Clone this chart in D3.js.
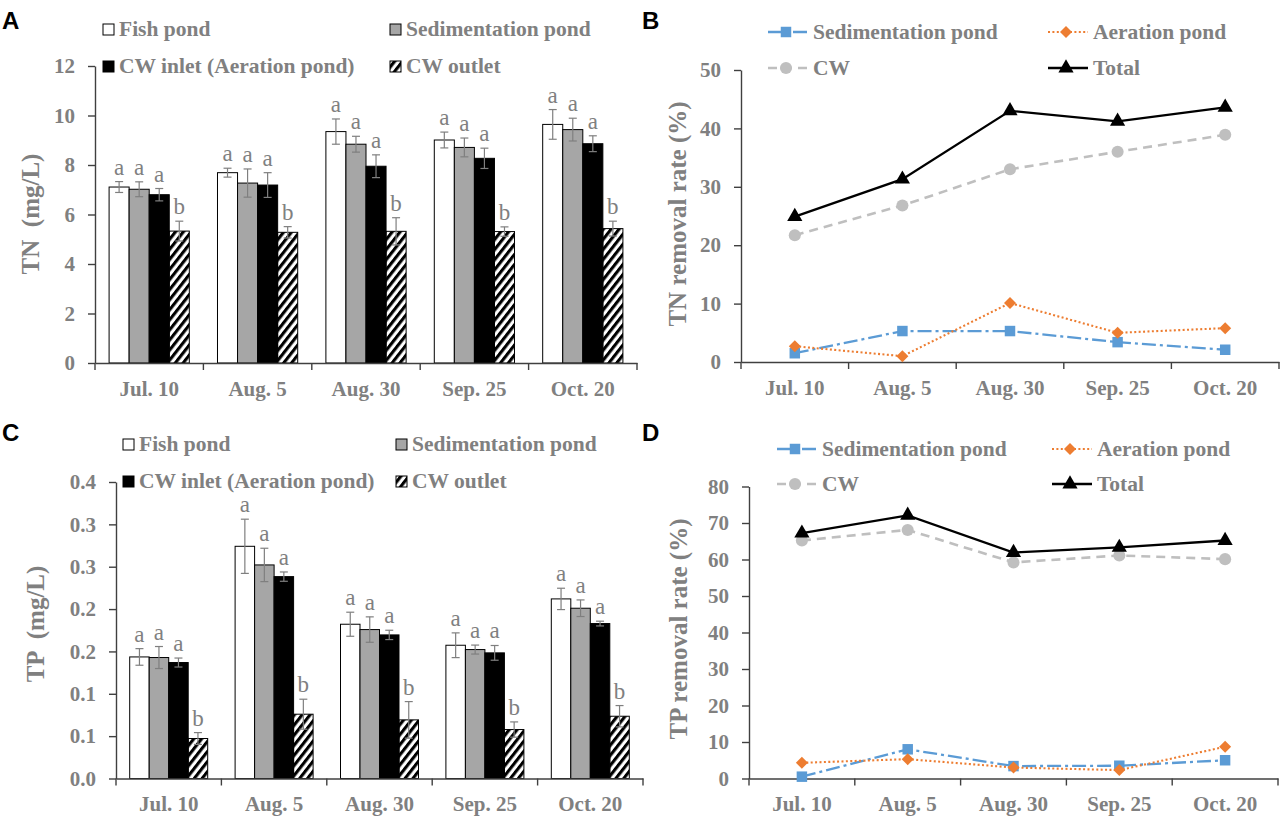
<!DOCTYPE html>
<html>
<head>
<meta charset="utf-8">
<script src="https://cdnjs.cloudflare.com/ajax/libs/d3/7.8.5/d3.min.js"></script>
<style>
body { margin: 0; background: #fff; }
svg text { font-family: "Liberation Serif", "Times New Roman", serif; }
.tick text { font-weight: bold; fill: #808080; font-size: 21px; }
.ytitle { font-weight: bold; fill: #808080; font-size: 25px; }
.leg { font-weight: bold; fill: #808080; font-size: 21.5px; }
.letter { fill: #808080; font-size: 23px; }
.panel { font-family: "Liberation Sans", Arial, sans-serif !important; font-weight: bold; font-size: 24px; fill: #000; }
</style>
</head>
<body>
<svg width="1280" height="816"></svg>
<script>
var dates = ["Jul. 10", "Aug. 5", "Aug. 30", "Sep. 25", "Oct. 20"];
var barNames = ["Fish pond", "Sedimentation pond", "CW inlet (Aeration pond)", "CW outlet"];
var lineNames = ["Sedimentation pond", "Aeration pond", "CW", "Total"];
var letters = ["a", "a", "a", "b"];

// TN concentration (mg/L) and standard errors
var tnFish   = [7.11, 7.69, 9.35, 9.01, 9.64];
var tnSed    = [7.02, 7.27, 8.84, 8.71, 9.43];
var tnInlet  = [6.80, 7.19, 7.95, 8.27, 8.86];
var tnOutlet = [5.33, 5.28, 5.32, 5.31, 5.43];
var tnFishErr   = [0.22, 0.18, 0.51, 0.32, 0.60];
var tnSedErr    = [0.30, 0.57, 0.32, 0.38, 0.46];
var tnInletErr  = [0.25, 0.50, 0.46, 0.41, 0.32];
var tnOutletErr = [0.40, 0.23, 0.55, 0.19, 0.30];

// TP concentration (mg/L) and standard errors
var tpFish   = [0.1435, 0.2741, 0.1821, 0.1573, 0.2120];
var tpSed    = [0.1428, 0.2521, 0.1758, 0.1522, 0.2010];
var tpInlet  = [0.1369, 0.2383, 0.1695, 0.1483, 0.1829];
var tpOutlet = [0.0472, 0.0759, 0.0692, 0.0578, 0.0735];
var tpFishErr   = [0.0098, 0.0320, 0.0142, 0.0146, 0.0126];
var tpSedErr    = [0.0130, 0.0197, 0.0150, 0.0053, 0.0098];
var tpInletErr  = [0.0053, 0.0055, 0.0055, 0.0087, 0.0028];
var tpOutletErr = [0.0070, 0.0177, 0.0216, 0.0090, 0.0126];

// removal rates (%)
var tnRateSed   = [1.5, 5.3, 5.3, 3.4, 2.1];
var tnRateAer   = [2.7, 1.0, 10.1, 5.0, 5.8];
var tnRateCW    = [21.7, 26.8, 33.0, 36.0, 38.9];
var tnRateTotal = [24.9, 31.3, 43.0, 41.2, 43.6];
var tpRateSed   = [0.5, 8.0, 3.4, 3.5, 5.0];
var tpRateAer   = [4.3, 5.3, 3.0, 2.3, 8.7];
var tpRateCW    = [65.2, 68.1, 59.2, 61.1, 60.1];
var tpRateTotal = [67.2, 72.1, 61.9, 63.3, 65.2];

// ticks
var tnTicks = [0, 2, 4, 6, 8, 10, 12];
var tpTicks = [0, 0.05, 0.1, 0.15, 0.2, 0.25, 0.3, 0.35];
var tpTickLabels = ["0.0", "0.1", "0.1", "0.2", "0.2", "0.3", "0.3", "0.4"];
var tnRateTicks = [0, 10, 20, 30, 40, 50];
var tpRateTicks = [0, 10, 20, 30, 40, 50, 60, 70, 80];

var svg = d3.select("svg");
var axisColor = "#404040";

var defs = svg.append("defs");
defs.append("pattern")
    .attr("id", "hatch")
    .attr("patternUnits", "userSpaceOnUse")
    .attr("width", 6.2).attr("height", 10)
    .attr("patternTransform", "rotate(38)")
  .append("rect")
    .attr("width", 3.1).attr("height", 10)
    .attr("fill", "#000");

function styleAxis(sel) {
    sel.selectAll("path, line").attr("stroke", axisColor).attr("stroke-width", 1.4);
}

function drawXAxis(g, x, o) {
    var ax = g.append("g")
        .attr("transform", "translate(0," + o.bottom + ")")
        .call(d3.axisBottom(x).tickSize(0).tickSizeOuter(0).tickPadding(18));
    styleAxis(ax);
    // ticks sit on the category boundaries
    var bounds = dates.map(function(d) { return x(d); }).concat([x.range()[1]]);
    g.selectAll(".bt").data(bounds).join("line")
        .attr("x1", function(d) { return d; }).attr("x2", function(d) { return d; })
        .attr("y1", o.bottom).attr("y2", o.bottom + 7)
        .attr("stroke", axisColor).attr("stroke-width", 1.4);
}

function drawYAxis(g, y, o) {
    var ax = g.append("g")
        .attr("transform", "translate(" + o.left + ",0)")
        .call(d3.axisLeft(y).tickValues(o.ticks).tickSize(7).tickSizeOuter(0).tickPadding(13)
            .tickFormat(o.fmt || null));
    styleAxis(ax);
    g.append("text")
        .attr("class", "ytitle")
        .attr("transform", "rotate(-90)")
        .attr("x", -o.titleY).attr("y", o.titleX)
        .attr("text-anchor", "middle")
        .attr("xml:space", "preserve")
        .text(o.title);
}

function barPanel(o) {
    var g = svg.append("g");
    var x = d3.scaleBand().domain(dates).range([o.left, o.right]);
    var bw = x.bandwidth();
    var xs = d3.scaleBand().domain(barNames).range([bw * 0.13, bw * 0.87]);
    var y = d3.scaleLinear().domain([0, o.max]).range([o.bottom, o.top]);
    var fills = ["#fff", "#a6a6a6", "#000", "url(#hatch)"];

    var rows = dates.map(function(d, i) {
        return o.values.map(function(s, j) {
            return { name: barNames[j], v: s[i], e: o.errors[j][i], fill: fills[j], letter: letters[j] };
        });
    });

    var grp = g.selectAll(".grp").data(rows).join("g")
        .attr("transform", function(d, i) { return "translate(" + x(dates[i]) + ",0)"; });

    grp.selectAll("rect").data(function(d) { return d; }).join("rect")
        .attr("x", function(d) { return xs(d.name); })
        .attr("y", function(d) { return y(d.v); })
        .attr("width", xs.bandwidth())
        .attr("height", function(d) { return o.bottom - y(d.v); })
        .attr("fill", function(d) { return d.fill; })
        .attr("stroke", "#000").attr("stroke-width", 1);

    var cx = function(d) { return xs(d.name) + xs.bandwidth() / 2; };
    var err = grp.selectAll(".err").data(function(d) { return d; }).join("g").attr("class", "err")
        .attr("stroke", "#7f7f7f").attr("stroke-width", 1.2);
    err.append("line")
        .attr("x1", cx).attr("x2", cx)
        .attr("y1", function(d) { return y(d.v + d.e); })
        .attr("y2", function(d) { return y(d.v - d.e); });
    err.append("line")
        .attr("x1", function(d) { return cx(d) - 4; }).attr("x2", function(d) { return cx(d) + 4; })
        .attr("y1", function(d) { return y(d.v + d.e); }).attr("y2", function(d) { return y(d.v + d.e); });
    err.append("line")
        .attr("x1", function(d) { return cx(d) - 4; }).attr("x2", function(d) { return cx(d) + 4; })
        .attr("y1", function(d) { return y(d.v - d.e); }).attr("y2", function(d) { return y(d.v - d.e); });

    grp.selectAll(".letter").data(function(d) { return d; }).join("text")
        .attr("class", "letter")
        .attr("x", cx)
        .attr("y", function(d) { return y(d.v + d.e) - 7; })
        .attr("text-anchor", "middle")
        .text(function(d) { return d.letter; });

    drawXAxis(g, x, o);
    drawYAxis(g, y, o);

    // legend, two columns by two rows
    barNames.forEach(function(n, j) {
        var lx = o.legX[j % 2], ly = o.legY[Math.floor(j / 2)];
        g.append("rect")
            .attr("x", lx).attr("y", ly - 12).attr("width", 11).attr("height", 11)
            .attr("fill", fills[j]).attr("stroke", "#000").attr("stroke-width", 1);
        g.append("text").attr("class", "leg").attr("x", lx + 16).attr("y", ly).text(n);
    });

    svg.append("text").attr("class", "panel").attr("x", o.panelX).attr("y", o.panelY).text(o.panel);
}

var lineStyles = [
    { color: "#5b9bd5", dash: "14,4,3,4", width: 2.3, symbol: d3.symbolSquare, size: 110, rot: 0 },
    { color: "#ed7d31", dash: "2,2.4", width: 2.1, symbol: d3.symbolSquare, size: 72, rot: 45 },
    { color: "#bfbfbf", dash: "9,6", width: 2.6, symbol: d3.symbolCircle, size: 115, rot: 0 },
    { color: "#000000", dash: null, width: 2.3, symbol: d3.symbolTriangle, size: 100, rot: 0 }
];

function linePanel(o) {
    var g = svg.append("g");
    var x = d3.scaleBand().domain(dates).range([o.left, o.right]);
    var y = d3.scaleLinear().domain([0, o.max]).range([o.bottom, o.top]);
    var px = function(d, i) { return x(dates[i]) + x.bandwidth() / 2; };
    var line = d3.line().x(px).y(function(d) { return y(d); });

    drawXAxis(g, x, o);
    drawYAxis(g, y, o);

    o.series.forEach(function(s, k) {
        var st = lineStyles[k];
        g.append("path").datum(s)
            .attr("d", line)
            .attr("fill", "none")
            .attr("stroke", st.color).attr("stroke-width", st.width)
            .attr("stroke-dasharray", st.dash);
        g.selectAll(".m" + k).data(s).join("path")
            .attr("transform", function(d, i) { return "translate(" + px(d, i) + "," + y(d) + ") rotate(" + st.rot + ")"; })
            .attr("d", d3.symbol().type(st.symbol).size(st.size))
            .attr("fill", st.color);
    });

    lineNames.forEach(function(n, k) {
        var st = lineStyles[k];
        var lx = o.legX[k % 2], ly = o.legY[Math.floor(k / 2)] - 7;
        g.append("line")
            .attr("x1", lx).attr("x2", lx + 40).attr("y1", ly).attr("y2", ly)
            .attr("stroke", st.color).attr("stroke-width", st.width)
            .attr("stroke-dasharray", st.dash);
        g.append("path")
            .attr("transform", "translate(" + (lx + 18) + "," + ly + ") rotate(" + st.rot + ")")
            .attr("d", d3.symbol().type(st.symbol).size(st.size))
            .attr("fill", st.color);
        g.append("text").attr("class", "leg").attr("x", lx + 45).attr("y", ly + 7).text(n);
    });

    svg.append("text").attr("class", "panel").attr("x", o.panelX).attr("y", o.panelY).text(o.panel);
}

barPanel({
    panel: "A", panelX: 2, panelY: 29,
    left: 95, right: 637, top: 66, bottom: 363, max: 12,
    ticks: tnTicks,
    values: [tnFish, tnSed, tnInlet, tnOutlet],
    errors: [tnFishErr, tnSedErr, tnInletErr, tnOutletErr],
    title: "TN  (mg/L)", titleX: 39, titleY: 214,
    legX: [103, 390], legY: [36, 73]
});

linePanel({
    panel: "B", panelX: 642, panelY: 29,
    left: 741, right: 1279, top: 70, bottom: 362, max: 50,
    ticks: tnRateTicks,
    series: [tnRateSed, tnRateAer, tnRateCW, tnRateTotal],
    title: "TN removal rate (%)", titleX: 686, titleY: 214,
    legX: [768, 1048], legY: [39, 75]
});

barPanel({
    panel: "C", panelX: 2, panelY: 441,
    left: 116, right: 643, top: 482, bottom: 778.5, max: 0.35,
    ticks: tpTicks, fmt: function(d, i) { return tpTickLabels[i]; },
    values: [tpFish, tpSed, tpInlet, tpOutlet],
    errors: [tpFishErr, tpSedErr, tpInletErr, tpOutletErr],
    title: "TP  (mg/L)", titleX: 44, titleY: 624,
    legX: [123, 396], legY: [451, 488]
});

linePanel({
    panel: "D", panelX: 642, panelY: 441,
    left: 749, right: 1278, top: 486.5, bottom: 778.5, max: 80,
    ticks: tpRateTicks,
    series: [tpRateSed, tpRateAer, tpRateCW, tpRateTotal],
    title: "TP removal rate (%)", titleX: 687, titleY: 629,
    legX: [777, 1052], legY: [456, 491]
});
</script>
</body>
</html>
